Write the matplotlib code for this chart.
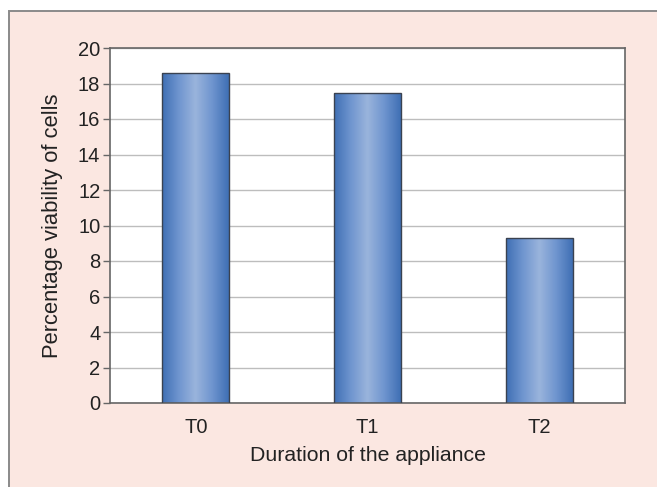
import numpy as np
import matplotlib
matplotlib.use("Agg")
import matplotlib.pyplot as plt
from matplotlib.colors import LinearSegmentedColormap
from matplotlib.patches import Rectangle

categories = ["T0", "T1", "T2"]
viability = [18.6, 17.45, 9.3]
y_ticks = [0, 2, 4, 6, 8, 10, 12, 14, 16, 18, 20]

plt.rcParams["font.family"] = ["Liberation Sans", "DejaVu Sans"]

fig = plt.figure(figsize=(6.57, 4.87), dpi=100)
fig.patch.set_facecolor("white")

# pink panel behind the chart
panel = Rectangle((9 / 657, -0.05), 1.1, 1.05 - 11 / 487, transform=fig.transFigure,
                  facecolor="#fbe7e1", edgecolor="#8a8a8a", linewidth=1.4, zorder=-10)
fig.patches.append(panel)

ax = fig.add_axes([110 / 657, 1 - 403 / 487, (625 - 110) / 657, (403 - 48) / 487])
ax.set_zorder(5)
ax.set_facecolor("white")

x = np.arange(len(categories))
bars = ax.bar(x, viability, width=0.39, color="none", edgecolor="#3a4250",
              linewidth=1.0, zorder=3)

# horizontal blue gradient, lighter in the middle of each bar
cmap = LinearSegmentedColormap.from_list(
    "barshade", ["#3f6fb4", "#6f95cf", "#9ab4dc", "#6f95cf", "#3f6fb4"])
grad = np.linspace(0, 1, 256).reshape(1, -1)
for b in bars:
    x0, w, h = b.get_x(), b.get_width(), b.get_height()
    im = ax.imshow(grad, cmap=cmap, extent=[x0, x0 + w, 0, h],
                   aspect="auto", zorder=2, interpolation="bicubic")
    im.set_clip_path(b)

ax.set_xlim(-0.5, len(categories) - 0.5)
ax.set_ylim(0, 20)
ax.set_yticks(y_ticks)
ax.set_xticks(x)
ax.set_xticklabels(categories)
ax.yaxis.grid(True, color="#bdbdbd", linewidth=1.0, zorder=1)
ax.set_axisbelow(True)

for s in ax.spines.values():
    s.set_color("#666666")
    s.set_linewidth(1.2)

ax.tick_params(axis="y", length=5, width=1.0, color="#666666",
               labelsize=14.5, labelcolor="#222222", pad=2)
ax.tick_params(axis="x", length=0, labelsize=14.5, labelcolor="#222222", pad=11)

ax.set_xlabel("Duration of the appliance", fontsize=15.3, color="#222222", labelpad=6)
ax.set_ylabel("Percentage viability of cells", fontsize=15.8, color="#222222", labelpad=11)

fig.savefig("out.png", dpi=100)
